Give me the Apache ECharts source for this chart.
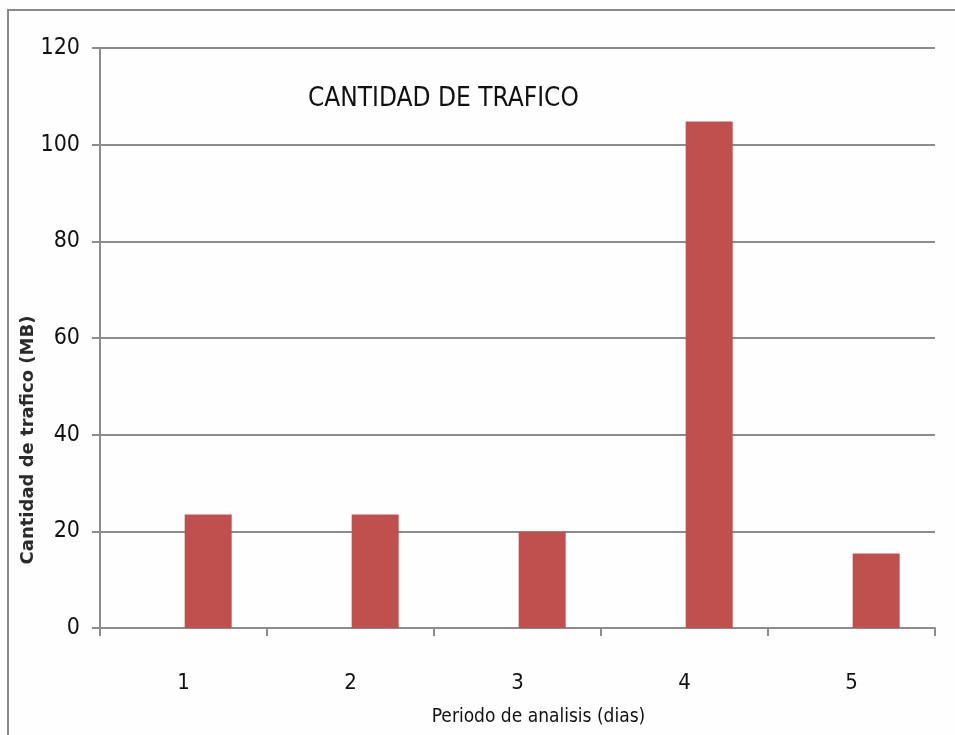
<!DOCTYPE html>
<html>
<head>
<meta charset="utf-8">
<script src="https://cdn.jsdelivr.net/npm/echarts@6/dist/echarts.min.js"></script>
<style>html,body{margin:0;padding:0;background:#fff}#c{width:955px;height:735px}</style>
</head>
<body>
<div id="c"></div>
<script>
var categories = ['1', '2', '3', '4', '5'];
var emptySeries = [null, null, null, null, null];
var traffic = [23.5, 23.5, 19.9, 104.8, 15.4];
var yTicks = [0, 20, 40, 60, 80, 100, 120];

var chart = echarts.init(document.getElementById('c'));
var fontN = "'Liberation Sans Narrow', 'DejaVu Sans Condensed', sans-serif";
chart.setOption({
  animation: false,
  backgroundColor: '#fefefe',
  graphic: [{
    type: 'rect', shape: { x: 8, y: 10, width: 960, height: 740 },
    style: { fill: 'none', stroke: '#8a8a8a', lineWidth: 2 }, z: -1
  }, {
    type: 'text', x: 28, y: 440, rotation: Math.PI / 2,
    style: { text: 'Cantidad de trafico (MB)', align: 'center', verticalAlign: 'middle',
      font: "bold 18px 'DejaVu Sans', sans-serif", fill: '#2a2a2a' }
  }],
  title: {
    text: 'CANTIDAD DE TRAFICO', left: 303, top: 81,
    textStyle: { fontFamily: fontN, fontSize: 26, fontWeight: 'normal', color: '#111' }
  },
  grid: { left: 100, right: 20, top: 48, bottom: 107 },
  xAxis: {
    type: 'category', data: categories,
    name: 'Periodo de analisis (dias)', nameLocation: 'middle', nameGap: 80,
    nameTextStyle: { fontFamily: fontN, fontSize: 19, color: '#111', padding: [0, 0, 0, 42] },
    axisLine: { lineStyle: { color: '#8c8c8c', width: 2 } },
    axisTick: { show: true, length: 8, lineStyle: { color: '#8c8c8c', width: 2 } },
    axisLabel: { fontFamily: fontN, fontSize: 22, color: '#111', margin: 44 }
  },
  yAxis: {
    type: 'value', min: 0, max: 120, interval: 20,
    axisLine: { show: true, lineStyle: { color: '#8c8c8c', width: 2 } },
    axisTick: { show: true, length: 8, lineStyle: { color: '#8c8c8c', width: 2 } },
    axisLabel: { fontFamily: fontN, fontSize: 23, color: '#111', margin: 20,
      formatter: function (v) { return yTicks.indexOf(v) >= 0 ? String(v) : ''; } },
    splitLine: { lineStyle: { color: '#8c8c8c', width: 2 } }
  },
  series: [
    { type: 'bar', data: emptySeries, barWidth: 47, barGap: '5%', itemStyle: { color: '#4f81bd' } },
    { type: 'bar', data: traffic, barWidth: 47, barGap: '5%', itemStyle: { color: '#c0504d' } }
  ]
});
</script>
</body>
</html>
